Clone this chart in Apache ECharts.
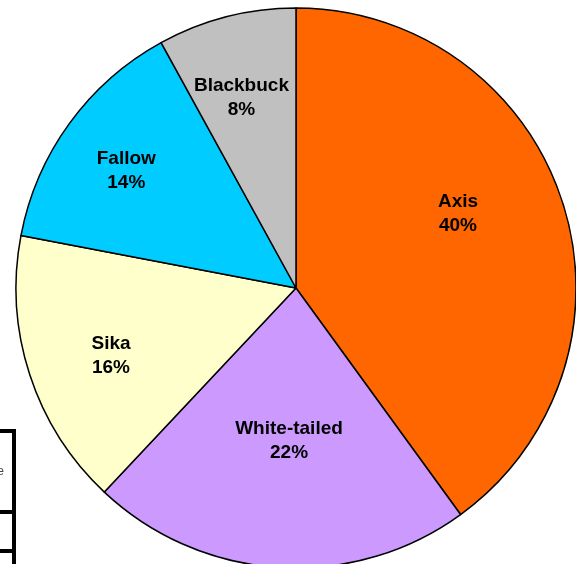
<!DOCTYPE html>
<html>
<head>
<meta charset="utf-8">
<script src="https://cdn.jsdelivr.net/npm/echarts@6/dist/echarts.min.js"></script>
<style>
html,body{margin:0;padding:0;background:#fff;}
#c{width:576px;height:564px;}
</style>
</head>
<body>
<div id="c"></div>
<script>
const categories = ['Axis', 'White-tailed', 'Sika', 'Fallow', 'Blackbuck'];
const values = [40, 22, 16, 14, 8];
const colors = ['#FF6600', '#CC99FF', '#FFFFCC', '#00CCFF', '#C0C0C0'];
const labelShift = [[26, -30], [2, 10], [-49, 24], [-54, -33], [-19, -52]];

const cx = 296, cy = 288, R = 280;
const chart = echarts.init(document.getElementById('c'), null, {renderer: 'canvas'});
chart.setOption({
  animation: false,
  backgroundColor: '#ffffff',
  series: [{
    type: 'pie',
    center: [cx, cy],
    radius: [0, R],
    startAngle: 90,
    clockwise: true,
    avoidLabelOverlap: false,
    emphasis: {disabled: true},
    itemStyle: {borderColor: '#000', borderWidth: 1.5},
    label: {
      show: true,
      position: 'inner',
      formatter: p => p.name + '\n' + p.value + '%',
      fontFamily: 'Liberation Sans, Arial, sans-serif',
      fontWeight: 'bold',
      fontSize: 19,
      lineHeight: 24,
      color: '#000'
    },
    labelLine: {show: false},
    labelLayout: function (p) {
      const s = labelShift[p.dataIndex];
      return {dx: s[0], dy: s[1]};
    },
    data: categories.map((n, i) => ({name: n, value: values[i], itemStyle: {color: colors[i]}}))
  }],
  graphic: [
    {type: 'rect', shape: {x: -10, y: 429, width: 24, height: 4}, style: {fill: '#000'}},
    {type: 'rect', shape: {x: 12, y: 429, width: 4, height: 140}, style: {fill: '#000'}},
    {type: 'rect', shape: {x: -10, y: 510, width: 24, height: 4}, style: {fill: '#000'}},
    {type: 'rect', shape: {x: -10, y: 549, width: 24, height: 4}, style: {fill: '#000'}},
    {type: 'text', style: {x: 4, y: 472, text: 'e', fill: '#444', font: '12px Liberation Sans', align: 'right', verticalAlign: 'middle'}}
  ]
});
</script>
</body>
</html>
